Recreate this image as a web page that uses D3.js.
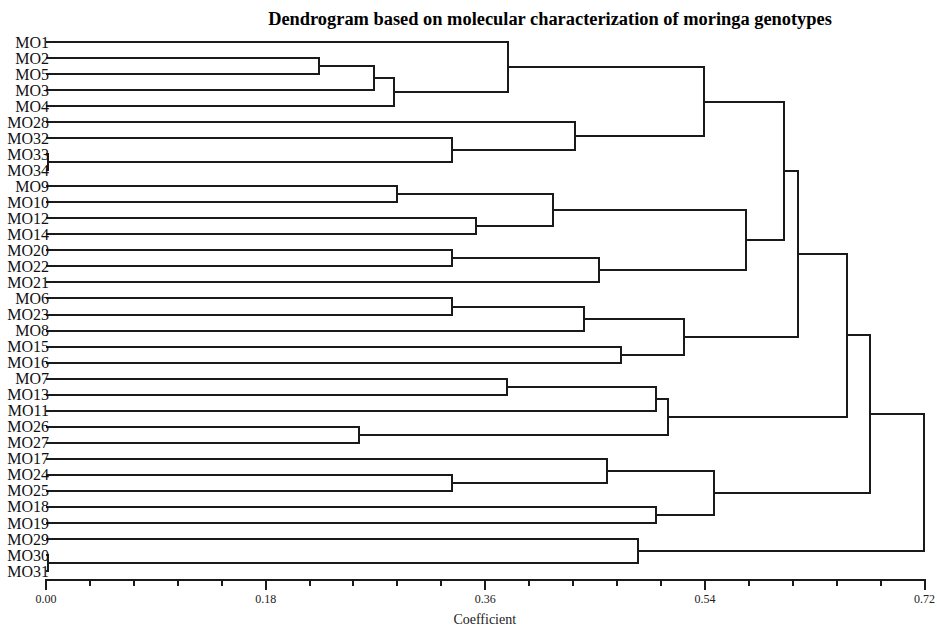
<!DOCTYPE html>
<html>
<head>
<meta charset="utf-8">
<script src="https://cdn.jsdelivr.net/npm/d3@7"></script>
<style>
  html, body { margin: 0; padding: 0; background: #fff; }
  svg { display: block; }
</style>
</head>
<body>
<svg id="chart" width="937" height="627"></svg>
<script>
// ---- Data ----
const title = "Dendrogram based on molecular characterization of moringa genotypes";
const axisTitle = "Coefficient";

const leaves = ["MO1","MO2","MO5","MO3","MO4","MO28","MO32","MO33","MO34",
  "MO9","MO10","MO12","MO14","MO20","MO22","MO21","MO6","MO23","MO8",
  "MO15","MO16","MO7","MO13","MO11","MO26","MO27","MO17","MO24","MO25",
  "MO18","MO19","MO29","MO30","MO31"];

// merges: [id, left, right, coefficient]
const mergeIds    = ["n1","n2","n3","n4","n5","n6","n7","n8","n9","n10","n11","n12","n13","n14","n15","n16","n17","n18","n19","n20","n21","n22","n23","n24","n25","n26","n27","n28","n29","n30","n31","n32","n33"];
const mergeLeft   = ["MO2","n1","n2","MO1","MO33","MO32","MO28","n4","MO9","MO12","n9","MO20","n12","n11","n8","MO6","n16","MO15","n17","n15","MO7","n21","MO26","n22","n20","MO24","MO17","MO18","n27","n25","MO30","MO29","n30"];
const mergeRight  = ["MO5","MO3","MO4","n3","MO34","n5","n6","n7","MO10","MO14","n10","MO22","MO21","n13","n14","MO23","MO8","MO16","n18","n19","MO13","MO11","MO27","n23","n24","MO25","n26","MO19","n28","n29","MO31","n31","n32"];
const mergeHeight = [0.224,0.269,0.286,0.379,0.002,0.333,0.434,0.540,0.288,0.353,0.416,0.333,0.454,0.574,0.605,0.333,0.441,0.472,0.523,0.617,0.378,0.500,0.257,0.510,0.657,0.333,0.460,0.500,0.548,0.676,0.002,0.486,0.720];

const majorTicks = [0.00, 0.18, 0.36, 0.54, 0.72];
const minorTicks = d3.range(0, 21).map(i => +(i * 0.036).toFixed(3));

// ---- Layout ----
const svg = d3.select("#chart");
const x = d3.scaleLinear().domain([0, 0.72]).range([45.5, 924]);
const y = d3.scalePoint().domain(leaves).range([42, 571]);

const nodes = {};
leaves.forEach(name => { nodes[name] = { h: 0, y: y(name) }; });
mergeIds.forEach((id, i) => {
  const l = nodes[mergeLeft[i]], r = nodes[mergeRight[i]];
  nodes[id] = { h: mergeHeight[i], y: (l.y + r.y) / 2, l, r };
});

const lineColor = "#1a1a1a";
const g = svg.append("g")
  .attr("fill", "none")
  .attr("stroke", lineColor)
  .attr("stroke-width", 2)
  .attr("shape-rendering", "crispEdges");

mergeIds.forEach(id => {
  const n = nodes[id];
  const xn = x(n.h);
  const p = d3.path();
  p.moveTo(x(n.l.h), n.l.y);
  p.lineTo(xn, n.l.y);
  p.lineTo(xn, n.r.y);
  p.lineTo(x(n.r.h), n.r.y);
  g.append("path").attr("d", p.toString());
});

// Leaf labels
svg.append("g")
  .selectAll("text")
  .data(leaves)
  .join("text")
  .attr("x", 49)
  .attr("y", d => y(d))
  .attr("dy", "0.35em")
  .attr("text-anchor", "end")
  .attr("font-family", "'Liberation Serif', 'Times New Roman', serif")
  .attr("font-size", 16)
  .attr("fill", "#111")
  .text(d => d);

// Axis
const axisY = 579;
const minorAxis = d3.axisBottom(x).tickValues(minorTicks).tickSize(7).tickSizeOuter(0).tickFormat("");
const majorAxis = d3.axisBottom(x).tickValues(majorTicks).tickSize(11).tickSizeOuter(0).tickPadding(4).tickFormat(d3.format(".2f"));

const gMinor = svg.append("g").attr("transform", `translate(0,${axisY})`).call(minorAxis);
const gMajor = svg.append("g").attr("transform", `translate(0,${axisY})`).call(majorAxis);
[gMinor, gMajor].forEach(a => {
  a.selectAll("path, line").attr("stroke", lineColor).attr("stroke-width", 2).attr("shape-rendering", "crispEdges");
  a.selectAll("text")
    .attr("font-family", "'Liberation Serif', 'Times New Roman', serif")
    .attr("font-size", 12)
    .attr("fill", "#222");
});

svg.append("text")
  .attr("x", x(0.36))
  .attr("y", 624)
  .attr("text-anchor", "middle")
  .attr("font-family", "'Liberation Serif', 'Times New Roman', serif")
  .attr("font-size", 14)
  .attr("fill", "#222")
  .text(axisTitle);

svg.append("text")
  .attr("x", 550)
  .attr("y", 25)
  .attr("text-anchor", "middle")
  .attr("font-family", "'Liberation Serif', 'Times New Roman', serif")
  .attr("font-weight", "bold")
  .attr("font-size", 18.4)
  .attr("fill", "#000")
  .text(title);
</script>
</body>
</html>
